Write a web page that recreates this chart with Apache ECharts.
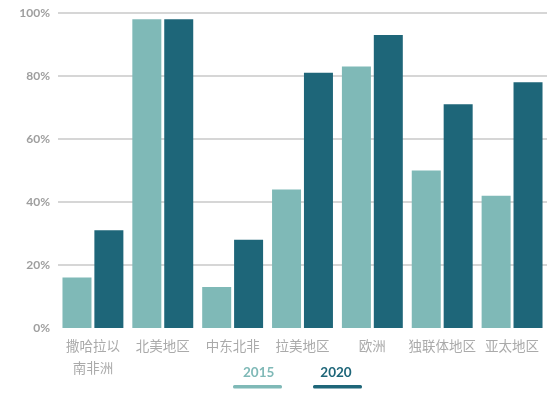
<!DOCTYPE html>
<html>
<head>
<meta charset="utf-8">
<script src="https://cdn.jsdelivr.net/npm/echarts@6/dist/echarts.min.js"></script>
<style>html,body{margin:0;padding:0;background:#fff;}#c{width:558px;height:394px;}</style>
</head>
<body>
<div id="c"></div>
<script>
var categories = ['撒哈拉以南非洲', '北美地区', '中东北非', '拉美地区', '欧洲', '独联体地区', '亚太地区'];
var seriesNames = ['2015', '2020'];
var values2015 = [16, 98, 13, 44, 83, 50, 42];
var values2020 = [31, 98, 28, 81, 93, 71, 78];
var yTicks = [0, 20, 40, 60, 80, 100];

var c1 = '#7fb9b7', c2 = '#1e6679';
var chart = echarts.init(document.getElementById('c'));
chart.setOption({
  animation: false,
  backgroundColor: '#fff',
  grid: {left: 58, right: 11, top: 13, bottom: 66, containLabel: false},
  legend: {
    left: 238, top: 361, itemGap: 46, itemWidth: 0, itemHeight: 0, selectedMode: false,
    icon: 'rect',
    data: [
      {name: seriesNames[0], textStyle: {color: c1}},
      {name: seriesNames[1], textStyle: {color: c2}}
    ],
    textStyle: {fontSize: 13.5, fontWeight: 'bold', fontFamily: 'Lato, sans-serif', padding: [0,0,0,-5]}
  },
  graphic: [
    {type: 'rect', shape: {x: 233, y: 385, width: 49, height: 3.5, r: 1.5}, style: {fill: c1}},
    {type: 'rect', shape: {x: 313, y: 385, width: 49, height: 3.5, r: 1.5}, style: {fill: c2}}
  ],
  xAxis: {
    type: 'category', data: categories,
    axisLine: {show: false}, axisTick: {show: false},
    axisLabel: {
      color: '#aaaaaa', fontSize: 13.5, margin: 7, lineHeight: 22, interval: 0,
      fontFamily: '"Noto Sans CJK SC", sans-serif',
      formatter: function (v) { return v.length > 6 ? v.slice(0, 4) + '\n' + v.slice(4) : v; }
    }
  },
  yAxis: {
    type: 'value', min: yTicks[0], max: yTicks[yTicks.length - 1], interval: 20,
    axisLine: {show: false}, axisTick: {show: false},
    axisLabel: {
      color: '#9e9e9e', fontSize: 12, fontWeight: 'bold', margin: 8,
      fontFamily: 'Lato, sans-serif',
      formatter: function (v) { return v + '%'; }
    },
    splitLine: {
      show: true, showMinLine: false,
      lineStyle: {color: '#c9c9c9', width: 1.5}
    }
  },
  series: [
    {name: seriesNames[0], type: 'bar', data: values2015, barWidth: 29, barGap: '10%',
     itemStyle: {color: c1}},
    {name: seriesNames[1], type: 'bar', data: values2020, barWidth: 29, barGap: '10%',
     itemStyle: {color: c2}}
  ]
});
</script>
</body>
</html>
